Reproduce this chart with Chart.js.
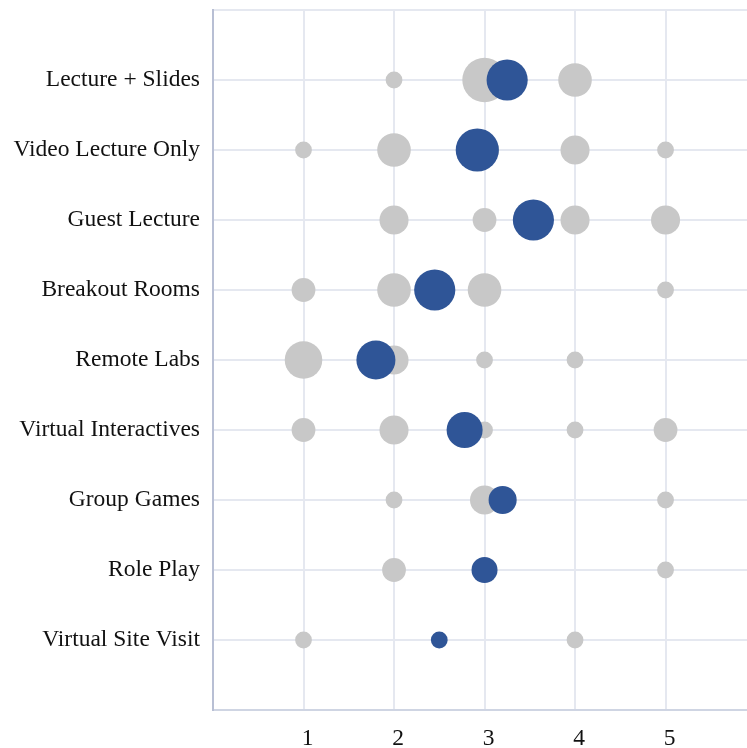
<!DOCTYPE html>
<html>
<head>
  <meta charset="UTF-8" />
  <title>Activity ratings</title>
  <script src="https://cdn.jsdelivr.net/npm/chart.js"></script>
  <style>
    html, body { margin: 0; padding: 0; background: #fff; }
    #wrap { width: 747px; height: 748px; }
  </style>
</head>
<body>
  <div id="wrap"><canvas id="ratingChart" width="747" height="748"></canvas></div>

  <script>
    // categories, top to bottom
    const activities = [
      'Lecture + Slides', 'Video Lecture Only', 'Guest Lecture', 'Breakout Rooms',
      'Remote Labs', 'Virtual Interactives', 'Group Games', 'Role Play', 'Virtual Site Visit'
    ];
    const ratingTicks = [1, 2, 3, 4, 5];

    // number of responses at rating 1..5 for each activity
    const responses = [
      [0, 1, 7, 4, 0],
      [1, 4, 3, 3, 1],
      [0, 3, 2, 3, 3],
      [2, 4, 4, 0, 1],
      [5, 3, 1, 1, 0],
      [2, 3, 1, 1, 2],
      [0, 1, 3, 0, 1],
      [0, 2, 2, 0, 1],
      [1, 0, 0, 1, 0]
    ];

    // mean rating and its bubble weight
    const meanRating = [3.25, 2.92, 3.54, 2.45, 1.8, 2.78, 3.2, 3.0, 2.5];
    const meanWeight = [6.0, 6.6, 6.0, 6.0, 5.4, 4.6, 2.8, 2.4, 1.0];

    const rowY = i => activities.length - i;
    const radius = w => 8.4 * Math.sqrt(w);

    const greyPoints = [];
    responses.forEach((row, i) => {
      row.forEach((n, j) => {
        if (n > 0) greyPoints.push({ x: ratingTicks[j], y: rowY(i), r: radius(n) });
      });
    });
    const bluePoints = meanRating.map((m, i) => ({ x: m, y: rowY(i), r: radius(meanWeight[i]) }));

    const serif = { family: '"Liberation Serif", "Times New Roman", serif', size: 23.5 };

    new Chart(document.getElementById('ratingChart').getContext('2d'), {
      type: 'bubble',
      data: {
        datasets: [
          {
            label: 'Mean',
            data: bluePoints,
            backgroundColor: '#2f5597',
            borderColor: '#2f5597',
            borderWidth: 0,
            order: 1
          },
          {
            label: 'Responses',
            data: greyPoints,
            backgroundColor: '#c8c8c8',
            borderColor: '#c8c8c8',
            borderWidth: 0,
            order: 2
          }
        ]
      },
      options: {
        responsive: false,
        animation: false,
        events: [],
        layout: { autoPadding: false, padding: { top: 10, right: 0, left: 0, bottom: 0 } },
        plugins: {
          legend: { display: false },
          tooltip: { enabled: false }
        },
        scales: {
          x: {
            type: 'linear',
            min: 0,
            max: 5.9,
            afterBuildTicks: s => { s.ticks = [0].concat(ratingTicks).map(v => ({ value: v })); },
            afterFit: s => {
              s.height = 38;
              s.paddingLeft = 0;
              s.paddingRight = 0;
            },
            ticks: {
              color: '#111',
              font: serif,
              padding: 15,
              labelOffset: 4,
              maxRotation: 0,
              callback: v => (v === 0 ? '' : String(v))
            },
            grid: { color: '#e5e8f0', lineWidth: 2, drawTicks: false },
            border: { color: '#cfd5e3', width: 2 }
          },
          y: {
            type: 'linear',
            min: 0,
            max: 10,
            afterBuildTicks: s => {
              const t = [];
              for (let v = 0; v <= 10; v++) t.push({ value: v });
              s.ticks = t;
            },
            afterFit: s => {
              s.width = 213;
              s.paddingTop = 0;
              s.paddingBottom = 0;
            },
            ticks: {
              color: '#111',
              font: serif,
              padding: 13,
              callback: v => {
                const i = activities.length - v;
                return (v >= 1 && v <= activities.length) ? activities[i] : '';
              }
            },
            grid: { color: '#e5e8f0', lineWidth: 2, drawTicks: false },
            border: { color: '#b8bfd4', width: 2 }
          }
        }
      }
    });
  </script>
</body>
</html>
